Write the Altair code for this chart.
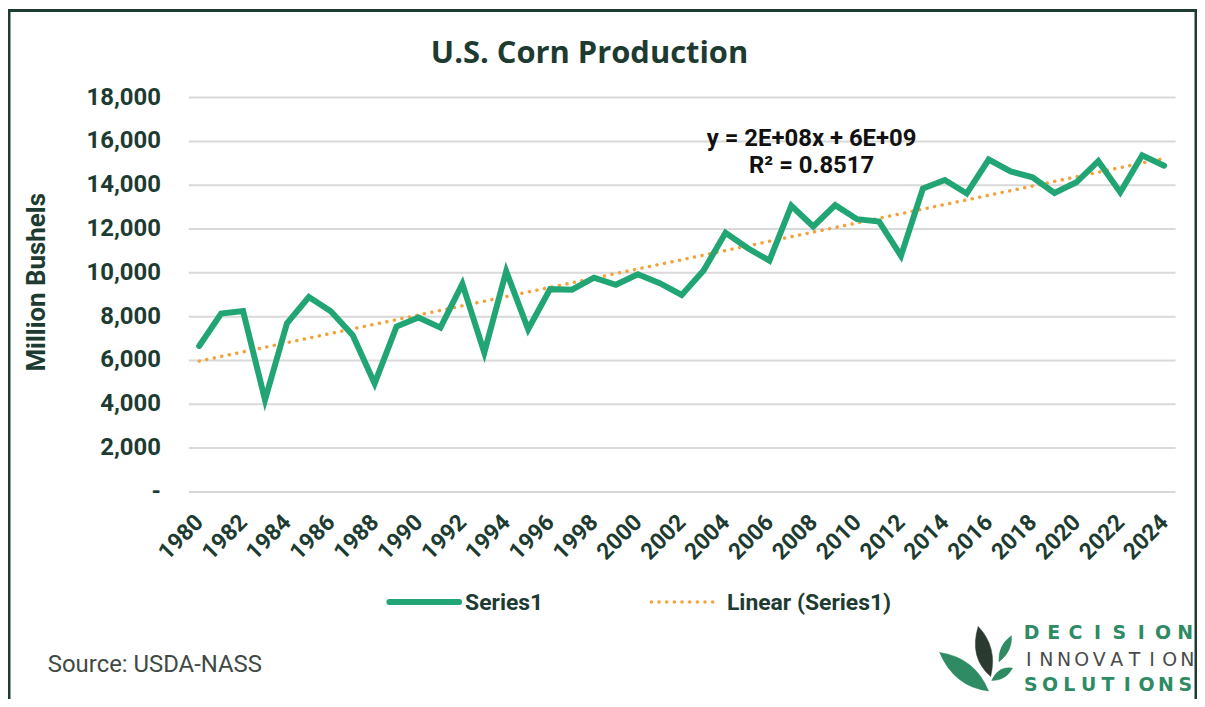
import altair as alt
import pandas as pd

# ---------------- data ----------------
years = list(range(1980, 2025))
production = [6639, 8119, 8235, 4174, 7672, 8875, 8226, 7131, 4929, 7531,
              7934, 7475, 9477, 6336, 10051, 7400, 9233, 9207, 9759, 9431,
              9915, 9503, 8967, 10087, 11806, 11112, 10531, 13038, 12092, 13067,
              12425, 12314, 10755, 13829, 14216, 13602, 15148, 14609, 14340, 13620,
              14111, 15074, 13651, 15341, 14867]
x_tick_years = list(range(1980, 2025, 2))
y_ticks = list(range(0, 18001, 2000))

title_text = "U.S. Corn Production"
y_title = "Million Bushels"
eq_lines = ["y = 2E+08x + 6E+09", "R\u00b2 = 0.8517"]
legend_labels = ["Series1", "Linear (Series1)"]
source_text = "Source: USDA-NASS"
logo_words = ["DECISION", "INNOVATION", "SOLUTIONS"]

# ---------------- style ----------------
GREEN = "#22a574"
ORANGE = "#f4a23c"
DARK = "#1d3b31"
GRID = "#d9d9d9"
W, H = 991, 396
PAD = {"left": 181, "top": 88, "right": 22, "bottom": 207}

df = pd.DataFrame({"year": years, "value": production})

x_enc = alt.X(
    "year:Q",
    scale=alt.Scale(domain=[1979.5, 2024.5], nice=False, zero=False),
    axis=alt.Axis(values=x_tick_years, format="d", labelAngle=315,
                  labelAlign="right", labelBaseline="middle", labelPadding=27,
                  ticks=False, domain=False, grid=False, title=None,
                  labelFont="Roboto", labelFontSize=23, labelFontWeight="bold",
                  labelColor=DARK, labelOverlap=False, labelFlush=False),
)
y_enc = alt.Y(
    "value:Q",
    scale=alt.Scale(domain=[0, 18000], nice=False),
    axis=alt.Axis(values=y_ticks,
                  labelExpr="datum.value == 0 ? '-\u00a0\u00a0\u00a0' : format(datum.value, ',')",
                  grid=True, gridColor=GRID, gridWidth=2, domain=False, ticks=False,
                  labelPadding=28, title=None, labelFont="Roboto", labelFontSize=24,
                  labelFontWeight="bold", labelColor=DARK),
)

base = alt.Chart(df)
line = base.mark_line(color=GREEN, strokeWidth=6, strokeCap="round").encode(x=x_enc, y=y_enc)
trend = base.transform_regression("year", "value", method="linear").mark_line(
    color=ORANGE, strokeWidth=3.5, strokeDash=[0.1, 7.6], strokeCap="round"
).encode(x=x_enc, y=y_enc)


def txt(text, x, y, size, weight="bold", color=DARK, align="center", font="Roboto", angle=0):
    kw = dict(fontSize=size, fontWeight=weight, color=color, align=align,
              baseline="middle", font=font)
    if angle:
        kw["angle"] = angle
    return alt.Chart(pd.DataFrame({"t": [text]})).mark_text(**kw).encode(
        text="t:N", x=alt.value(x), y=alt.value(y))


OX, OY = 189, 96  # page position of the plot origin
title = txt(title_text, 592 - OX, 53 - OY, 31, font="Open Sans")
ytitle = txt(y_title, 37 - OX, 282 - OY, 26, angle=270)
eq1 = txt(eq_lines[0], 815 - OX, 138 - OY, 24, color="#111111")
eq2 = txt(eq_lines[1], 815 - OX, 165 - OY, 24, color="#111111")
src = txt(source_text, 48 - OX, 666 - OY, 24, weight="normal", color="#3f4a45", align="left")

leg_line1 = alt.Chart(pd.DataFrame({"a": [0]})).mark_rule(
    color=GREEN, strokeWidth=6, strokeCap="round"
).encode(x=alt.value(391 - OX), x2=alt.value(461 - OX), y=alt.value(603 - OY))
leg_line2 = alt.Chart(pd.DataFrame({"a": [0]})).mark_rule(
    color=ORANGE, strokeWidth=3.5, strokeDash=[0.1, 7.6], strokeCap="round"
).encode(x=alt.value(654 - OX), x2=alt.value(718 - OX), y=alt.value(603 - OY))
leg_t1 = txt(legend_labels[0], 467 - OX, 604 - OY, 23, align="left")
leg_t2 = txt(legend_labels[1], 730 - OX, 604 - OY, 23, align="left")

# frame around the whole figure
frame = alt.Chart(pd.DataFrame({"a": [0]})).mark_rect(
    fill="transparent", stroke=DARK, strokeWidth=3
).encode(x=alt.value(-PAD["left"] + 1), x2=alt.value(1193 - PAD["left"]),
         y=alt.value(-PAD["top"] + 1), y2=alt.value(H + 300))

# logo letters (spread out like the letter-spaced logo)
logo_rows = []
specs = [(logo_words[0], 1036, 22.0, 634, "#2e8b64", "bold"),
         (logo_words[1], 1033, 17.7, 661, "#4a4a4a", "normal"),
         (logo_words[2], 1035, 19.4, 686, "#2e8b64", "bold")]
for word, start, pitch, yy, col, wt in specs:
    for i, ch in enumerate(word):
        logo_rows.append({"ch": ch, "px": start + i * pitch - OX, "py": yy - OY,
                          "col": col, "wt": wt})
logo_df = pd.DataFrame(logo_rows)
logo_bold = alt.Chart(logo_df[logo_df.wt == "bold"]).mark_text(
    font="DejaVu Sans", fontSize=19, fontWeight="bold", baseline="middle", align="center"
).encode(text="ch:N", x=alt.X("px:Q", scale=None), y=alt.Y("py:Q", scale=None),
         color=alt.Color("col:N", scale=None))
logo_norm = alt.Chart(logo_df[logo_df.wt == "normal"]).mark_text(
    font="DejaVu Sans", fontSize=19, fontWeight="normal", baseline="middle", align="center"
).encode(text="ch:N", x=alt.X("px:Q", scale=None), y=alt.Y("py:Q", scale=None),
         color=alt.Color("col:N", scale=None))

green_leaves = ("M-0.8,-0.175 Q0.05,-0.05 0.375,0.75 Q-0.45,0.65 -0.8,-0.175 Z "
                "M0.925,-0.575 Q0.6,-0.35 0.625,0.05 Q0.95,-0.2 0.925,-0.575 Z "
                "M0.45,0.5 Q0.6,0.15 0.95,0.2 Q0.8,0.5 0.45,0.5 Z")
dark_leaf = "M0.125,-0.8 Q0.6,-0.3 0.425,0.4 Q-0.1,-0.05 0.125,-0.8 Z"
leaf1 = alt.Chart(pd.DataFrame({"a": [0]})).mark_point(
    shape=green_leaves, filled=True, fill="#2e8b64", stroke="#2e8b64", strokeWidth=0.5,
    opacity=1, size=7000
).encode(x=alt.value(977 - OX), y=alt.value(661 - OY))
leaf2 = alt.Chart(pd.DataFrame({"a": [0]})).mark_point(
    shape=dark_leaf, filled=True, fill="#2b3a30", stroke="#2b3a30", strokeWidth=0.5,
    opacity=1, size=7000
).encode(x=alt.value(977 - OX), y=alt.value(661 - OY))

chart = alt.layer(
    frame, trend, line, title, ytitle, eq1, eq2, src,
    leg_line1, leg_line2, leg_t1, leg_t2, logo_bold, logo_norm, leaf1, leaf2
).properties(
    width=W, height=H, padding=PAD,
    autosize=alt.AutoSizeParams(type="none"),
    background="white",
).configure_view(stroke=None)

chart.save("out.html", embed_options={"renderer": "svg", "actions": False})
